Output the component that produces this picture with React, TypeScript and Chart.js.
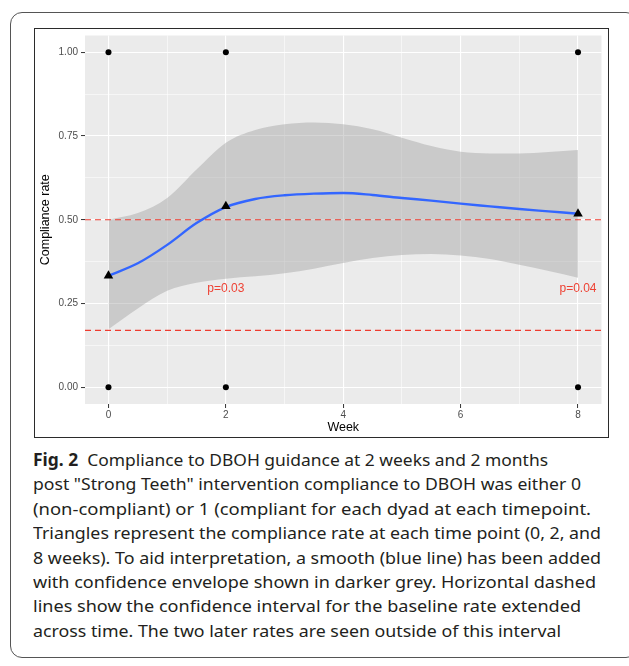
import React, { useEffect, useRef } from "react";
import { Chart, registerables } from "chart.js";

Chart.register(...registerables);

// ---------- data ----------
const rateWeeks = [0, 2, 8];
const rateValues = [0.333, 0.54, 0.518];

const rawWeeks = [0, 2, 8, 0, 2, 8];
const rawValues = [1, 1, 1, 0, 0, 0];

const smoothWeeks = [0, 0.5, 1, 1.5, 2, 2.5, 3, 3.5, 4, 4.5, 5, 5.5, 6, 6.5, 7, 7.5, 8];
const smoothValues = [0.333, 0.37, 0.425, 0.49, 0.538, 0.562, 0.573, 0.578, 0.58, 0.574, 0.565, 0.557, 0.548, 0.54, 0.532, 0.525, 0.518];
const upperValues = [0.5, 0.52, 0.565, 0.65, 0.73, 0.768, 0.785, 0.79, 0.785, 0.77, 0.745, 0.72, 0.703, 0.698, 0.698, 0.702, 0.708];
const lowerValues = [0.173, 0.235, 0.288, 0.312, 0.324, 0.331, 0.34, 0.354, 0.371, 0.386, 0.395, 0.398, 0.393, 0.383, 0.366, 0.347, 0.327];

const baselineCI = [0.17, 0.5];

const annotationWeeks = [2, 8];
const annotationValues = [0.295, 0.295];
const annotationLabels = ["p=0.03", "p=0.04"];

const xMin = -0.4;
const xMax = 8.4;
const yMin = -0.05;
const yMax = 1.05;
const xGridValues = [0, 1, 2, 3, 4, 5, 6, 7, 8];
const yGridValues = [0, 0.125, 0.25, 0.375, 0.5, 0.625, 0.75, 0.875, 1];

const captionLines = [
  "Compliance to DBOH guidance at 2 weeks and 2 months",
  "post \"Strong Teeth\" intervention compliance to DBOH was either 0",
  "(non-compliant) or 1 (compliant for each dyad at each timepoint.",
  "Triangles represent the compliance rate at each time point (0, 2, and",
  "8 weeks). To aid interpretation, a smooth (blue line) has been added",
  "with confidence envelope shown in darker grey. Horizontal dashed",
  "lines show the confidence interval for the baseline rate extended",
  "across time. The two later rates are seen outside of this interval",
];
const captionWidths = [515, 548, 558, 568, 568, 563, 548, 528];

const FONT = "'Liberation Sans', Arial, Helvetica, sans-serif";

const isMajorX = (v: number) => Math.abs(v % 2) < 1e-6;
const isMajorY = (v: number) => Math.abs(v * 4 - Math.round(v * 4)) < 1e-6;

const panelPlugin = {
  id: "panelBg",
  beforeDraw(chart: any) {
    const { ctx, chartArea } = chart;
    ctx.save();
    ctx.fillStyle = "#EBEBEB";
    ctx.fillRect(chartArea.left, chartArea.top, chartArea.right - chartArea.left, chartArea.bottom - chartArea.top);
    ctx.restore();
  },
  afterDatasetsDraw(chart: any) {
    const { ctx } = chart;
    const xs = chart.scales.x;
    const ys = chart.scales.y;
    ctx.save();
    ctx.fillStyle = "#EE4234";
    ctx.font = `12px ${FONT}`;
    ctx.textAlign = "center";
    ctx.textBaseline = "middle";
    annotationLabels.forEach((t, i) => {
      ctx.fillText(t, xs.getPixelForValue(annotationWeeks[i]), ys.getPixelForValue(annotationValues[i]));
    });
    ctx.restore();
  },
};

function ChartCanvas() {
  const ref = useRef<HTMLCanvasElement | null>(null);
  useEffect(() => {
    if (!ref.current) return;
    const chart = new Chart(ref.current, {
      type: "scatter",
      data: {
        datasets: [
          {
            type: "line",
            label: "lower",
            data: smoothWeeks.map((x, i) => ({ x, y: lowerValues[i] })),
            borderWidth: 0,
            borderColor: "rgba(0,0,0,0)",
            pointRadius: 0,
            cubicInterpolationMode: "monotone",
            fill: false,
            order: 10,
          } as any,
          {
            type: "line",
            label: "upper",
            data: smoothWeeks.map((x, i) => ({ x, y: upperValues[i] })),
            borderWidth: 0,
            borderColor: "rgba(0,0,0,0)",
            backgroundColor: "rgba(153,153,153,0.4)",
            pointRadius: 0,
            cubicInterpolationMode: "monotone",
            fill: "-1",
            order: 9,
          } as any,
          ...baselineCI.map((v) => ({
            type: "line",
            label: "ci" + v,
            data: [
              { x: xMin, y: v },
              { x: xMax, y: v },
            ],
            borderColor: "#EE3B2F",
            borderWidth: 1.2,
            borderDash: [6, 4],
            pointRadius: 0,
            fill: false,
            order: 6,
          })) as any,
          {
            type: "line",
            label: "smooth",
            data: smoothWeeks.map((x, i) => ({ x, y: smoothValues[i] })),
            borderColor: "#3366FF",
            borderWidth: 2.4,
            pointRadius: 0,
            cubicInterpolationMode: "monotone",
            fill: false,
            order: 4,
          } as any,
          {
            label: "rate",
            data: rateWeeks.map((x, i) => ({ x, y: rateValues[i] })),
            pointStyle: "triangle",
            pointRadius: 5.5,
            backgroundColor: "#000",
            borderColor: "#000",
            borderWidth: 0,
            order: 2,
          } as any,
          {
            label: "raw",
            data: rawWeeks.map((x, i) => ({ x, y: rawValues[i] })),
            pointStyle: "circle",
            pointRadius: 3,
            backgroundColor: "#000",
            borderColor: "#000",
            borderWidth: 0,
            order: 1,
          } as any,
        ],
      },
      options: {
        animation: false,
        responsive: true,
        maintainAspectRatio: false,
        layout: { padding: { left: 0, top: 3, right: 5, bottom: 0 } },
        plugins: {
          legend: { display: false },
          tooltip: { enabled: false },
        },
        scales: {
          x: {
            type: "linear",
            min: xMin,
            max: xMax,
            afterBuildTicks: (scale: any) => {
              scale.ticks = xGridValues.map((v) => ({ value: v }));
            },
            afterFit: (scale: any) => {
              scale.height = 32;
              scale.paddingLeft = 0;
              scale.paddingRight = 0;
            },
            border: { display: false },
            grid: {
              color: "#FFFFFF",
              lineWidth: (c: any) => (isMajorX(c.tick.value) ? 1.1 : 0.55),
              tickColor: (c: any) => (isMajorX(c.tick.value) ? "#333333" : "rgba(0,0,0,0)"),
              tickLength: 4,
              tickWidth: 1,
            },
            ticks: {
              autoSkip: false,
              maxRotation: 0,
              padding: 1,
              color: "#4D4D4D",
              font: { family: FONT, size: 10 },
              callback: (v: any) => (isMajorX(Number(v)) ? String(v) : ""),
            },
            title: {
              display: true,
              text: "Week",
              color: "#000",
              font: { family: FONT, size: 12.5 },
              padding: { top: 0, bottom: 1 },
            },
          },
          y: {
            type: "linear",
            min: yMin,
            max: yMax,
            afterBuildTicks: (scale: any) => {
              scale.ticks = yGridValues.map((v) => ({ value: v }));
            },
            afterFit: (scale: any) => {
              scale.width = 49;
              scale.paddingTop = 0;
              scale.paddingBottom = 0;
            },
            border: { display: false },
            grid: {
              color: "#FFFFFF",
              lineWidth: (c: any) => (isMajorY(c.tick.value) ? 1.1 : 0.55),
              tickColor: (c: any) => (isMajorY(c.tick.value) ? "#333333" : "rgba(0,0,0,0)"),
              tickLength: 4,
              tickWidth: 1,
            },
            ticks: {
              autoSkip: false,
              padding: 3,
              color: "#4D4D4D",
              font: { family: FONT, size: 10 },
              callback: (v: any) => (isMajorY(Number(v)) ? Number(v).toFixed(2) : ""),
            },
            title: {
              display: true,
              text: "Compliance rate",
              color: "#000",
              font: { family: FONT, size: 12.5 },
              padding: { top: 2, bottom: 0 },
            },
          },
        },
      } as any,
      plugins: [panelPlugin],
    });
    return () => chart.destroy();
  }, []);
  return <canvas ref={ref} />;
}

function Caption() {
  const refs = useRef<(HTMLSpanElement | null)[]>([]);
  useEffect(() => {
    refs.current.forEach((el, i) => {
      if (!el) return;
      el.style.transform = "none";
      const w = el.getBoundingClientRect().width;
      const target = captionWidths[i];
      if (w > 0) el.style.transform = `scaleX(${target / w})`;
    });
  }, []);
  return (
    <>
      {captionLines.map((line, i) => (
        <div
          key={i}
          style={{
            position: "absolute",
            left: 33,
            top: 448 + i * 24.4,
            whiteSpace: "nowrap",
            fontFamily: "'Noto Sans', 'Open Sans', sans-serif",
            fontSize: 17,
            lineHeight: "24px",
            color: "#231F20",
          }}
        >
          <span
            ref={(el) => {
              refs.current[i] = el;
            }}
            style={{ display: "inline-block", transformOrigin: "0 0" }}
          >
            {i === 0 ? (
              <>
                <b>Fig. 2</b>
                {"\u00a0\u00a0"}
                {line}
              </>
            ) : (
              line
            )}
          </span>
        </div>
      ))}
    </>
  );
}

export default function App() {
  return (
    <div
      style={{
        position: "absolute",
        left: 0,
        top: 0,
        width: 629,
        height: 666,
        overflow: "hidden",
        background: "#fff",
      }}
    >
      <div
        style={{
          position: "absolute",
          left: 10,
          top: 12,
          width: 628,
          height: 646,
          border: "1px solid #555",
          borderRadius: 12,
          boxSizing: "border-box",
        }}
      />
      <div
        style={{
          position: "absolute",
          left: 34,
          top: 28,
          width: 575,
          height: 410,
          border: "1.5px solid #2B2B2B",
          boxSizing: "border-box",
          background: "#fff",
        }}
      />
      <div style={{ position: "absolute", left: 36, top: 30, width: 571, height: 406 }}>
        <ChartCanvas />
      </div>
      <Caption />
    </div>
  );
}
